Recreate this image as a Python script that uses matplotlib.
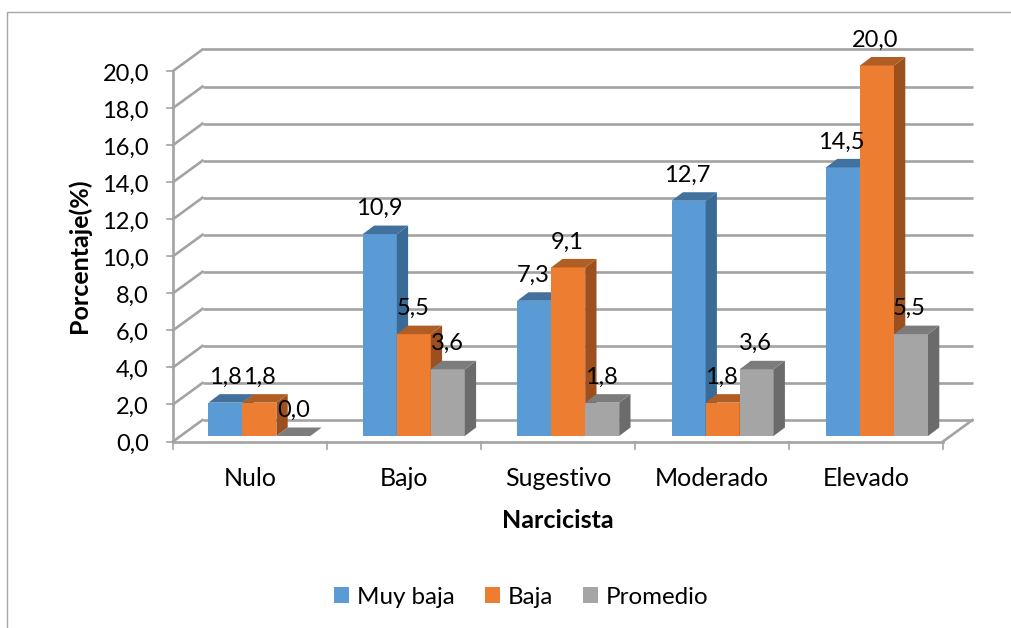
import matplotlib
matplotlib.use("Agg")
import matplotlib.pyplot as plt
from matplotlib.patches import Polygon, Patch, Rectangle
from matplotlib.transforms import Affine2D, IdentityTransform

categories = ["Nulo", "Bajo", "Sugestivo", "Moderado", "Elevado"]
muy_baja = [1.8, 10.9, 7.3, 12.7, 14.5]
baja = [1.8, 5.5, 9.1, 1.8, 20.0]
promedio = [0.0, 3.6, 1.8, 3.6, 5.5]
series_names = ["Muy baja", "Baja", "Promedio"]
series_values = [muy_baja, baja, promedio]
front_colors = ["#5B9BD5", "#ED7D31", "#A5A5A5"]
top_colors = ["#41719C", "#B15E25", "#7C7C7C"]
side_colors = ["#3A6A96", "#9C5020", "#6B6B6B"]
y_ticks = list(range(0, 21, 2))

W, H = 1011, 628
FS_NUM = 17
FS_TXT = 18
FS_LEG = 17.4
plt.rcParams['font.family'] = ['Lato', 'DejaVu Sans']
fig = plt.figure(figsize=(W / 100, H / 100), dpi=100, facecolor="white")

# front plane of the 3-D box, in pixels from top-left
L, R, T, B = 173, 943, 71, 441.5
ax = fig.add_axes([L / W, 1 - B / H, (R - L) / W, (B - T) / H])
ax.set_xlim(0, 5)
ax.set_ylim(0, 20)
ax.axis("off")

def shift(dx, dy):
    """data transform shifted by screen pixels (y measured upward)"""
    return ax.transData + Affine2D().translate(dx, dy)

WALL = (29.5, 21.5)
GRID = "#A3A3A3"
DEPTH = (11.3, 8.5)
BAR_OFF = (9.4, 5.5)
bar_w = 34.0 / 154

# frame
fig.add_artist(Rectangle((7 / W, -0.01), 1.02, 1 - 12 / H + 0.01, transform=fig.transFigure,
                         fill=False, ec="#A6A6A6", lw=1.0))

# grid lines on back wall and side wall
for v in y_ticks:
    ax.plot([0, 5], [v, v], transform=shift(*WALL), color=GRID, lw=1.9, clip_on=False, zorder=1,
            solid_capstyle="butt")
    p0 = ax.transData.transform((0, v))
    ax.plot([p0[0], p0[0] + WALL[0]], [p0[1], p0[1] + WALL[1]], transform=IdentityTransform(),
            color=GRID, lw=1.9, clip_on=False, zorder=1)
    ax.plot([0, -6 / 154], [v, v], color=GRID, lw=1.2, clip_on=False, zorder=1)
    ax.text(0, v, f"{v:.1f}".replace(".", ","), transform=shift(-24, -3), ha="right", va="center",
            fontsize=FS_NUM, color="black", clip_on=False)

# floor edges and front axes
ax.plot([0, 5], [0, 0], color=GRID, lw=1.9, clip_on=False, zorder=1)
ax.plot([0, 0], [0, 20], color=GRID, lw=1.9, clip_on=False, zorder=1)
pr = ax.transData.transform((5, 0))
ax.plot([pr[0], pr[0] + WALL[0]], [pr[1], pr[1] + WALL[1]], transform=IdentityTransform(),
        color=GRID, lw=1.9, clip_on=False, zorder=1)
for i in range(6):
    x0, y0 = ax.transData.transform((i, 0))
    ax.plot([x0, x0], [y0, y0 - 7], transform=IdentityTransform(), color=GRID, lw=1.2, clip_on=False, zorder=1)

# bars
dx, dy = DEPTH
for s, values in enumerate(series_values):
    for c, v in enumerate(values):
        left = c + 0.5 + (s - 1.5) * bar_w
        t = shift(BAR_OFF[0] + 0.4 * c, BAR_OFF[1])
        ax.bar(left, v, width=bar_w, align="edge", color=front_colors[s], linewidth=0,
               transform=t, zorder=3 + c * 3 + s, clip_on=False)
        (xa, ya) = t.transform((left, v))
        (xb, yb) = t.transform((left + bar_w, 0))
        top = [(xa, ya), (xb, ya), (xb + dx, ya + dy), (xa + dx, ya + dy)]
        side = [(xb, yb), (xb + dx, yb + dy), (xb + dx, ya + dy), (xb, ya)]
        ax.add_patch(Polygon(side, closed=True, transform=IdentityTransform(), fc=side_colors[s],
                             ec="none", zorder=3 + c * 3 + s, clip_on=False))
        ax.add_patch(Polygon(top, closed=True, transform=IdentityTransform(), fc=top_colors[s],
                             ec="none", zorder=3 + c * 3 + s, clip_on=False))
        ax.text(left + bar_w / 2, v, f"{v:.1f}".replace(".", ","),
                transform=shift(BAR_OFF[0], BAR_OFF[1] + 25.5), ha="center", va="center",
                fontsize=FS_NUM, color="black", zorder=40, clip_on=False)

# category labels
for c, name in enumerate(categories):
    ax.text(c + 0.5, 0, name, transform=shift(0, -36.5), ha="center", va="center", fontsize=FS_TXT,
            color="black", clip_on=False)

fig.text(79 / W, 1 - 256 / H, "Porcentaje(%)", rotation=90, ha="center", va="center",
         fontsize=FS_TXT, fontweight="bold", color="black")
fig.text(558 / W, 1 - 520 / H, "Narcicista", ha="center", va="center",
         fontsize=FS_TXT, fontweight="bold", color="black")

handles = [Patch(facecolor=col, edgecolor="none", label=n) for col, n in zip(front_colors, series_names)]
fig.legend(handles=handles, loc="center", bbox_to_anchor=(521.5 / W, 1 - 597 / H), ncol=3, frameon=False,
           fontsize=FS_LEG, handlelength=0.62, handleheight=0.62, handletextpad=0.33, columnspacing=1.24)

fig.savefig("out.png", dpi=100, facecolor="white")
